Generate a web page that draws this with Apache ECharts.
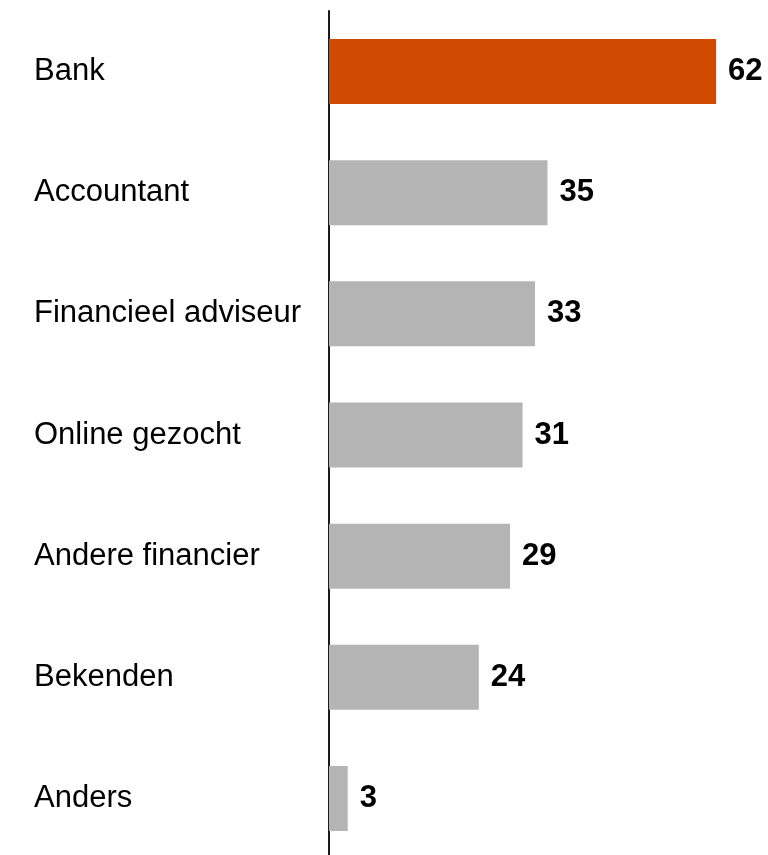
<!DOCTYPE html>
<html>
<head>
<meta charset="utf-8">
<script src="https://cdn.jsdelivr.net/npm/echarts@6/dist/echarts.min.js"></script>
<style>html,body{margin:0;padding:0;background:#fff;}#c{width:768px;height:855px;}</style>
</head>
<body>
<div id="c"></div>
<script>
const categories = ['Bank', 'Accountant', 'Financieel adviseur', 'Online gezocht', 'Andere financier', 'Bekenden', 'Anders'];
const values = [62, 35, 33, 31, 29, 24, 3];
const highlightColor = '#D04A02';
const baseColor = '#B4B4B4';

const chart = echarts.init(document.getElementById('c'));
chart.setOption({
  animation: false,
  grid: { left: 329, right: 2, top: 11, height: 848, containLabel: false, outerBoundsMode: 'none' },
  xAxis: { type: 'value', min: 0, max: 70, show: false },
  yAxis: {
    type: 'category', data: categories, inverse: true,
    axisLine: { show: true, lineStyle: { color: '#1a1a1a', width: 2 } },
    axisTick: { show: false },
    axisLabel: { align: 'left', margin: 295, padding: [4, 0, 0, 0], fontFamily: 'Liberation Sans, Arial, sans-serif', fontSize: 31, color: '#000' }
  },
  series: [{
    type: 'bar', barWidth: 65,
    data: values.map((v, i) => ({ value: v, itemStyle: { color: i === 0 ? highlightColor : baseColor } })),
    label: { show: true, position: 'right', distance: 12, padding: [4, 0, 0, 0], fontFamily: 'Liberation Sans, Arial, sans-serif', fontSize: 31, fontWeight: 'bold', color: '#000' }
  }]
});
</script>
</body>
</html>
